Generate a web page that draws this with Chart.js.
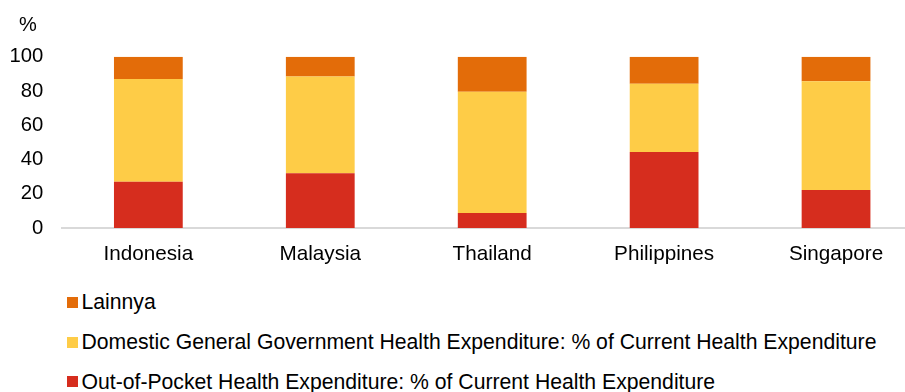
<!DOCTYPE html>
<html>
<head>
<meta charset="utf-8">
<script src="https://cdn.jsdelivr.net/npm/chart.js@4/dist/chart.umd.min.js"></script>
<style>
  html, body { margin: 0; padding: 0; background: #fff; width: 905px; height: 392px; overflow: hidden; }
  #wrap { position: absolute; left: 0; top: 0; width: 922px; height: 270px; }
  #unit { position: absolute; left: 19px; top: 14px; font: 20px "Liberation Sans", Arial, sans-serif; line-height: 1; color: #000; }
  .sw { position: absolute; left: 67px; width: 11px; height: 11px; }
  .lt { position: absolute; left: 81.5px; font: 21.2px "Liberation Sans", Arial, sans-serif; line-height: 1; color: #000; white-space: nowrap; }
</style>
</head>
<body>
<div id="wrap"><canvas id="chart" width="922" height="270"></canvas></div>
<div id="unit">%</div>
<div id="legend"></div>
<script>
// Health expenditure composition by country (% of current health expenditure)
const categories = ['Indonesia', 'Malaysia', 'Thailand', 'Philippines', 'Singapore'];
const outOfPocket = [27.0, 32.0, 8.7, 44.3, 22.2];
const government = [60.0, 56.5, 70.8, 39.9, 63.5];
const lainnya = [13.0, 11.5, 20.5, 15.8, 14.3];
const yTicks = [0, 20, 40, 60, 80, 100];

const seriesNames = [
  'Out-of-Pocket Health Expenditure: % of Current Health Expenditure',
  'Domestic General Government Health Expenditure: % of Current Health Expenditure',
  'Lainnya'
];
const seriesColors = ['#D62D1E', '#FECC47', '#E36C09'];
const seriesData = [outOfPocket, government, lainnya];

const FONT = '"Liberation Sans", Arial, sans-serif';

const chart = new Chart(document.getElementById('chart'), {
  type: 'bar',
  data: {
    labels: categories,
    datasets: seriesData.map((d, i) => ({
      label: seriesNames[i],
      data: d,
      backgroundColor: seriesColors[i],
      borderWidth: 0,
      categoryPercentage: 1,
      barPercentage: 0.4
    }))
  },
  options: {
    responsive: false,
    animation: false,
    devicePixelRatio: 1,
    layout: { padding: { left: 0, right: 0, top: 56.7, bottom: 0 } },
    plugins: { legend: { display: false }, tooltip: { enabled: false } },
    scales: {
      x: {
        stacked: true,
        grid: { display: false, drawTicks: false },
        border: { display: true, color: '#D9D9D9', width: 2 },
        ticks: { color: '#000', font: { family: FONT, size: 20.7 }, padding: 14, maxRotation: 0 },
        afterFit: (s) => { s.height = 42; }
      },
      y: {
        stacked: true,
        min: 0,
        max: 100,
        afterBuildTicks: (s) => { s.ticks = yTicks.map(v => ({ value: v })); },
        grid: { display: false, drawTicks: false },
        border: { display: false },
        ticks: { color: '#000', font: { family: FONT, size: 20.3 }, padding: 19 },
        afterFit: (s) => { s.width = 62.4; }
      }
    }
  }
});

// Legend listed top-down in reverse stacking order
const legend = document.getElementById('legend');
const rows = [
  { idx: 2, sq: 297.3, base: 309.3 },
  { idx: 1, sq: 337.3, base: 349.0 },
  { idx: 0, sq: 375.8, base: 388.5 }
];
rows.forEach(r => {
  const sw = document.createElement('div');
  sw.className = 'sw';
  sw.style.top = r.sq + 'px';
  sw.style.background = seriesColors[r.idx];
  legend.appendChild(sw);
  const t = document.createElement('div');
  t.className = 'lt';
  t.style.top = (r.base - 17.9) + 'px';
  t.textContent = seriesNames[r.idx];
  legend.appendChild(t);
});
</script>
</body>
</html>
